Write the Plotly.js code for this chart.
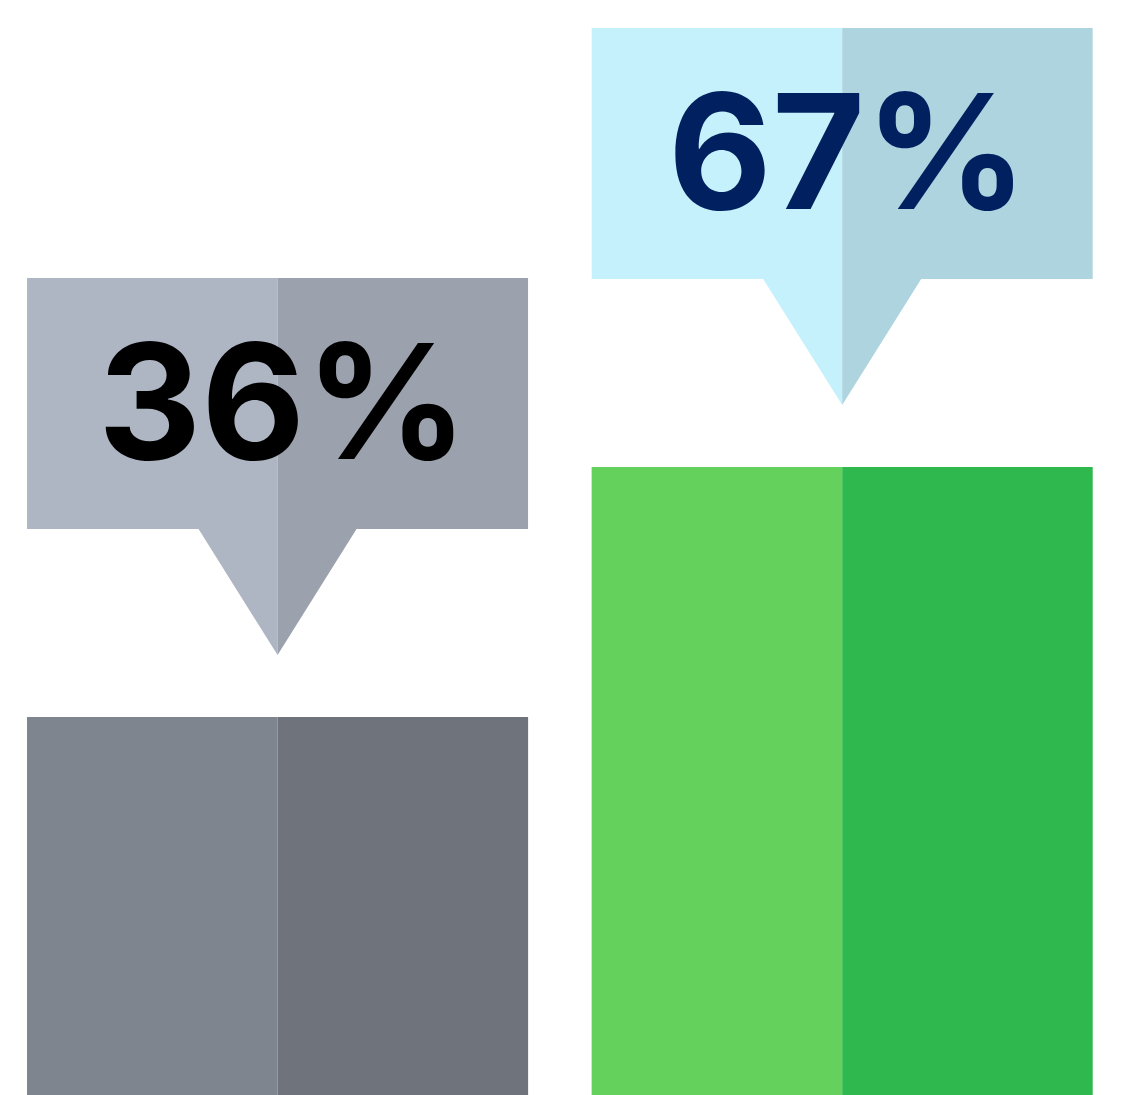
<!DOCTYPE html>
<html>
<head>
<meta charset="utf-8">
<script src="https://cdn.plot.ly/plotly-3.0.1.min.js"></script>
<style>html,body{margin:0;padding:0;background:#fff;}#chart{width:1129px;height:1095px;}</style>
</head>
<body>
<div id="chart"></div>
<script>
// Data
const categories = ['A', 'B'];
const values = [36, 67];
const labels = ['36%', '67%'];

// Styles
const barLight = ['#7e858f', '#63d15c'];
const barDark = ['#6f737c', '#2eb84e'];
const calloutLight = ['#aeb5c3', '#c5f1fc'];
const calloutDark = ['#9ba1ad', '#aed5df'];
const textColors = ['#000000', '#00205f'];

const yMin = -10.87, yMax = 124.91;
const halfW = 0.44375;

const xIdx = categories.map((c, i) => i);

const traces = [
  {type: 'bar', x: xIdx, y: values.map(v => v - yMin), base: yMin, width: halfW, offset: -halfW,
   marker: {color: barLight, line: {width: 0}}, hoverinfo: 'skip', showlegend: false},
  {type: 'bar', x: xIdx, y: values.map(v => v - yMin), base: yMin, width: halfW, offset: 0,
   marker: {color: barDark, line: {width: 0}}, hoverinfo: 'skip', showlegend: false}
];

const shapes = [];
const annotations = [];
values.forEach((v, i) => {
  shapes.push({type: 'path', xref: 'x', yref: 'y', xsizemode: 'pixel', ysizemode: 'pixel',
    xanchor: i, yanchor: v,
    path: 'M-250.5,188 L-250.5,439 L0,439 L0,62 L-79,188 Z',
    fillcolor: calloutLight[i], line: {width: 0}, layer: 'above'});
  shapes.push({type: 'path', xref: 'x', yref: 'y', xsizemode: 'pixel', ysizemode: 'pixel',
    xanchor: i, yanchor: v,
    path: 'M0,62 L0,439 L250.5,439 L250.5,188 L79,188 Z',
    fillcolor: calloutDark[i], line: {width: 0}, layer: 'above'});
  annotations.push({x: i, y: v, xref: 'x', yref: 'y', text: labels[i], showarrow: false,
    xanchor: 'center', yanchor: 'middle', yshift: 316, xshift: 5,
    font: {family: 'Inter', size: 160, color: textColors[i], weight: 700}});
});

const layout = {
  width: 1129, height: 1095,
  margin: {l: 0, r: 0, t: 0, b: 0, pad: 0},
  paper_bgcolor: '#ffffff', plot_bgcolor: '#ffffff',
  barmode: 'overlay',
  xaxis: {range: [-0.4916, 1.508], visible: false, fixedrange: true},
  yaxis: {range: [yMin, yMax], visible: false, fixedrange: true},
  shapes: shapes,
  annotations: annotations,
  showlegend: false
};

Plotly.newPlot('chart', traces, layout, {staticPlot: true, displayModeBar: false});
</script>
</body>
</html>
